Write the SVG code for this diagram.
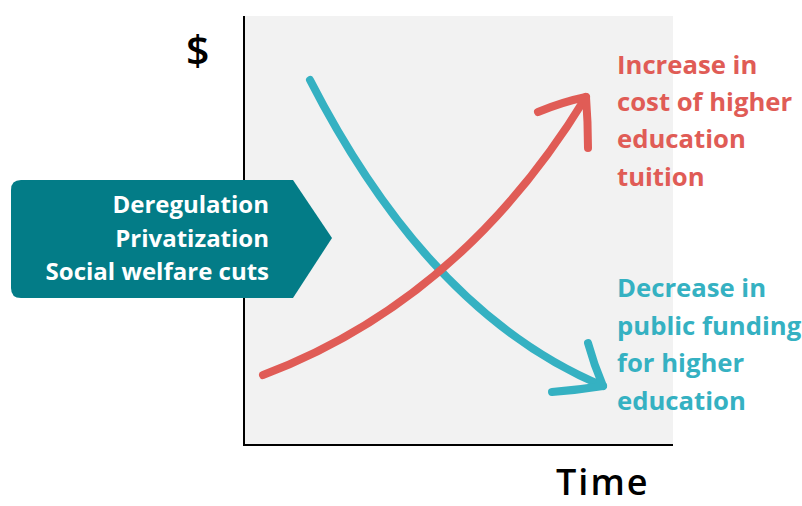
<svg xmlns="http://www.w3.org/2000/svg" width="802" height="506" viewBox="0 0 802 506">
<style>
.lbl{font-family:"Open Sans","Liberation Sans",sans-serif;font-weight:bold;font-size:24px}
.side{font-size:25.7px}
.red{fill:#e05c56}
.blue{fill:#35b1c2}
.rc{stroke:#e05c56;stroke-width:8;fill:none;stroke-linecap:round;stroke-linejoin:round}
.bc{stroke:#35b1c2;stroke-width:8;fill:none;stroke-linecap:round;stroke-linejoin:round}
.ax{font-family:"Open Sans","Liberation Sans",sans-serif;fill:#000;font-weight:600}
</style>
<rect width="802" height="506" fill="#fff"/>
<g id="chart">
<rect x="244" y="16" width="429" height="429" fill="#f2f2f2"/>
<path d="M244,16 V445 H673" stroke="#000" stroke-width="2" fill="none"/>
<text class="ax" x="186" y="65" font-size="41">$</text>
<text class="ax" x="556" y="495" font-size="36" letter-spacing="2">Time</text>
</g>
<g id="connectors">
<path class="bc" d="M310,80 Q430,314 603,386"/>
<path class="bc" d="M588,343 Q594,365 603,386 Q578,390 552,392"/>
<path class="rc" d="M263,375 Q462,300 586,97"/>
<path class="rc" d="M538,112 Q562,102 586,97 Q588,122 588,148"/>
</g>
<g id="causes">
<path d="M21,180 H293 L332,238 L293,298 H21 Q11,298 11,288 V190 Q11,180 21,180 Z" fill="#037c87"/>
<text class="lbl" fill="#fff" text-anchor="end" x="269"><tspan x="269" y="213">Deregulation</tspan><tspan x="269" y="247">Privatization</tspan><tspan x="269" y="280">Social welfare cuts</tspan></text>
</g>
<g id="increase">
<text class="lbl side red"><tspan x="617" y="74">Increase in</tspan><tspan x="617" y="111">cost of higher</tspan><tspan x="617" y="148">education</tspan><tspan x="617" y="186">tuition</tspan></text>
</g>
<g id="decrease">
<text class="lbl side blue"><tspan x="617" y="297">Decrease in</tspan><tspan x="617" y="335">public funding</tspan><tspan x="617" y="372">for higher</tspan><tspan x="617" y="410">education</tspan></text>
</g>
</svg>
